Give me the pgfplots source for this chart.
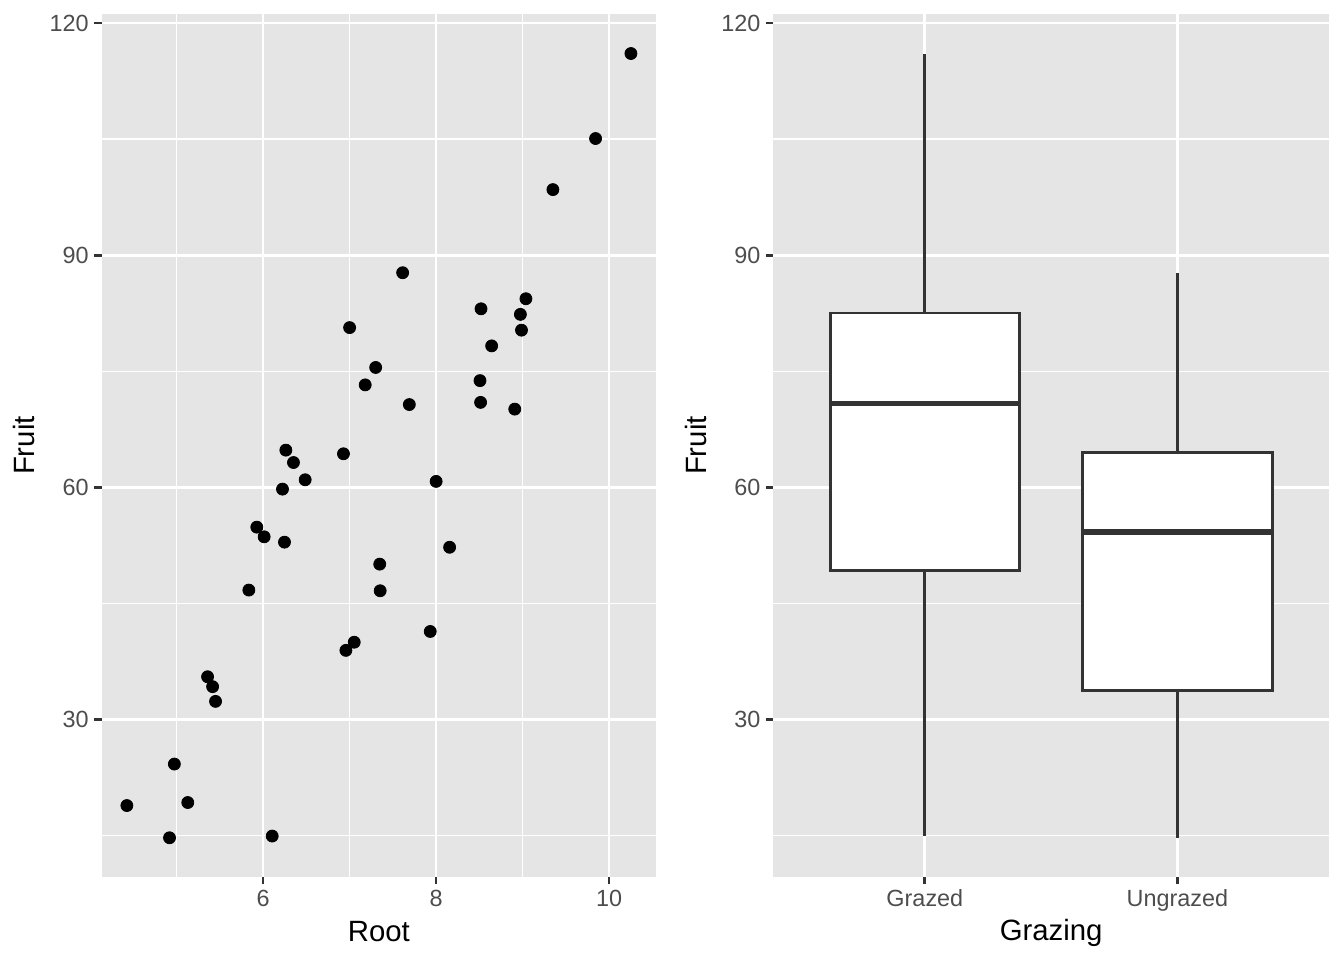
\documentclass[border=0pt]{standalone}
\usepackage{fontspec}
\setmainfont{Liberation Sans}
\usepackage{pgfplots}
\pgfplotsset{compat=1.18}
\usepgfplotslibrary{statistics}

\definecolor{panel}{HTML}{E5E5E5}
\definecolor{grey20}{HTML}{333333}
\definecolor{grey30}{HTML}{4D4D4D}

\pgfplotsset{
  gg/.style={
    scale only axis,
    anchor=south west,
    axis background/.style={fill=panel},
    axis x line*=bottom, axis y line*=left,
    axis line style={draw=none,-},
    tick align=outside,
    major tick length=3.67bp,
    minor tick length=0pt,
    every tick/.style={grey20, line width=1.42bp},
    grid=both,
    major grid style={white, line width=1.42bp},
    minor grid style={white, line width=0.71bp},
    /pgf/number format/assume math mode=true,
    ticklabel style={font=\fontsize{11.7bp}{14bp}\selectfont, text=grey30, inner sep=0pt},
    xticklabel style={yshift=-2.6bp},
    yticklabel style={xshift=-2.6bp},
    label style={font=\fontsize{14.67bp}{17bp}\selectfont, inner sep=0pt},
    xlabel style={at={(axis description cs:0.5,0)}, anchor=base, yshift=-32bp},
    ylabel style={at={(axis description cs:0,0.5)}, anchor=base, rotate=0, yshift=33.4bp},
    ymin=9.66, ymax=121.12,
    ytick={30,60,90,120},
    minor ytick={15,45,75,105},
    clip=false,
  }
}

\begin{document}
\begin{tikzpicture}
\path[use as bounding box] (0,0) rectangle (672bp,480bp);

\begin{axis}[gg, at={(50.85bp,41.5bp)}, width=277.2bp, height=431.35bp,
  xmin=4.135, xmax=10.544,
  xtick={6,8,10}, minor xtick={5,7,9},
  xlabel={Root}, ylabel={Fruit}]
\addplot[only marks, mark=*, mark size=3bp, black] table {
x y
6.225 59.77
6.487 60.98
4.919 14.73
5.130 19.28
5.417 34.25
5.359 35.53
7.614 87.73
6.352 63.21
4.975 24.25
6.930 64.34
6.248 52.92
5.451 32.35
6.013 53.61
5.928 54.86
6.264 64.81
7.181 73.24
7.001 80.64
4.426 18.89
7.302 75.49
5.836 46.73
10.253 116.05
6.958 38.94
8.001 60.77
9.039 84.37
8.910 70.11
6.106 14.95
7.691 70.70
8.988 80.31
8.975 82.35
9.844 105.07
8.508 73.79
9.351 98.47
8.643 78.28
8.157 52.26
7.354 46.64
7.054 39.99
8.515 70.98
7.349 50.08
8.520 83.07
7.933 41.38
};
\end{axis}

\begin{axis}[gg, at={(386.65bp,41.5bp)}, width=277.85bp, height=431.35bp,
  xmin=0.4, xmax=2.6,
  xtick={1,2}, xticklabels={Grazed,Ungrazed}, minor xtick={},
  xlabel={Grazing}, ylabel={Fruit},
  boxplot/every median/.style={line width=2.84bp},
  boxplot/draw direction=y]
\addplot+[mark=none, draw=grey20, fill=white, line width=1.42bp,
  boxplot prepared={draw position=1, median=70.84,
    lower quartile=49.22, upper quartile=82.53,
    lower whisker=14.95, upper whisker=116.05,
    box extend=0.75, whisker extend=0}] table[row sep=\\, y index=0] {\\};
\addplot+[mark=none, draw=grey20, fill=white, line width=1.42bp,
  boxplot prepared={draw position=2, median=54.235,
    lower quartile=33.775, upper quartile=64.4575,
    lower whisker=14.73, upper whisker=87.73,
    box extend=0.75, whisker extend=0}] table[row sep=\\, y index=0] {\\};
\end{axis}
\end{tikzpicture}
\end{document}
